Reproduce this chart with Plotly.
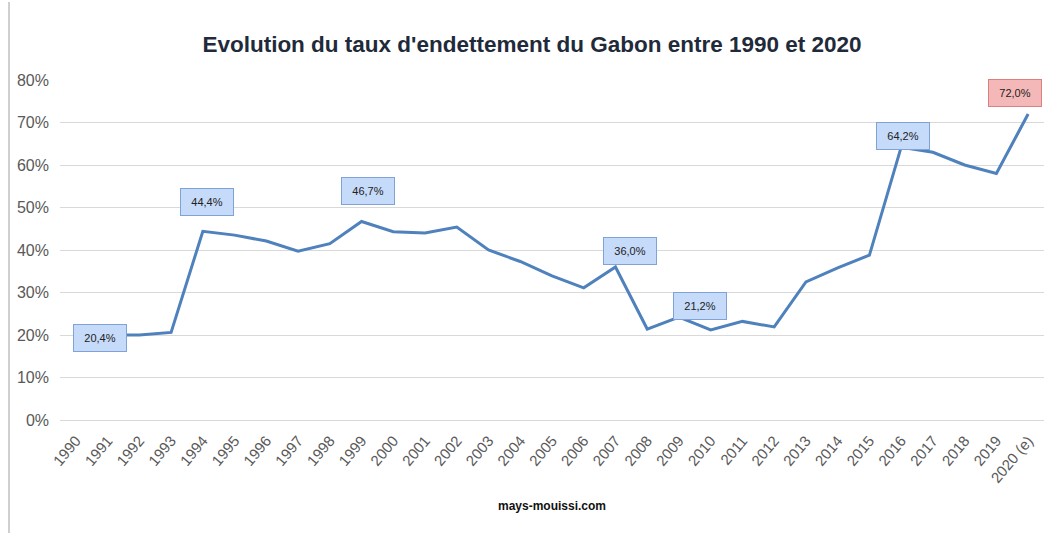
import plotly.graph_objects as go

years = [str(y) for y in range(1990, 2020)] + ["2020 (e)"]
debt = [20.4, 20.0, 20.0, 20.6, 44.4, 43.5, 42.1, 39.7, 41.5, 46.7,
        44.3, 44.0, 45.4, 40.0, 37.3, 33.9, 31.1, 36.0, 21.4, 24.2,
        21.2, 23.2, 21.9, 32.5, 35.8, 38.8, 64.2, 63.0, 60.0, 58.0, 72.0]

# labelled points: (index, xshift, yshift, estimated)
labelled = [(0, 24, -5, False), (4, 4, 29, False), (9, 6, 31, False),
            (17, 15, 16, False), (20, -11, 24, False), (26, 2, 11, False),
            (30, -13, 21, True)]

FONT = "Liberation Sans, Arial, sans-serif"

fig = go.Figure()
fig.add_trace(go.Scatter(
    x=years, y=debt, mode="lines",
    line=dict(color="#4f81bd", width=3),
    hoverinfo="x+y", showlegend=False,
))

annotations = []
for idx, xs, ys, est in labelled:
    annotations.append(dict(
        x=idx, y=debt[idx], xref="x", yref="y",
        text=f"{debt[idx]:.1f}%".replace(".", ","),
        showarrow=False, xshift=xs, yshift=ys,
        width=48, height=22, borderpad=2, borderwidth=1,
        bgcolor="#f5b8b8" if est else "#c6dafa",
        bordercolor="#d98080" if est else "#7fa3d6",
        font=dict(family=FONT, size=11, color="#222222"),
    ))

annotations.append(dict(
    text="mays-mouissi.com", xref="paper", yref="paper",
    x=(552 - 60) / 984, y=(420 - 515) / 340, showarrow=False,
    font=dict(family=FONT, size=12, color="#111111", weight="bold"),
))

fig.update_layout(
    width=1044, height=535,
    margin=dict(l=60, r=0, t=80, b=115),
    paper_bgcolor="white", plot_bgcolor="white",
    title=dict(
        text="<b>Evolution du taux d'endettement du Gabon entre 1990 et 2020</b>",
        x=532 / 1044, xanchor="center", y=1 - 44 / 535, yanchor="middle",
        font=dict(family=FONT, size=22.5, color="#1f2a3a"),
    ),
    xaxis=dict(
        type="category", range=[-0.5, 30.5], tickangle=-50,
        showgrid=False, showline=False, ticks="", ticklabelstandoff=8,
        tickfont=dict(family=FONT, size=15, color="#595959"),
    ),
    yaxis=dict(
        range=[0, 80], dtick=10, ticksuffix="%",
        showgrid=True, gridcolor="#d9d9d9", gridwidth=1,
        zeroline=True, zerolinecolor="#d9d9d9", zerolinewidth=1,
        showline=False, ticks="", ticklabelstandoff=10,
        tickfont=dict(family=FONT, size=16, color="#595959"),
    ),
    annotations=annotations,
    shapes=[dict(type="line", xref="paper", yref="paper",
                 x0=(9 - 60) / 984, x1=(9 - 60) / 984,
                 y0=(420 - 533) / 340, y1=(420 - 2) / 340,
                 line=dict(color="#bfbfbf", width=1.5))],
)

fig.write_html("out.html", config={"displayModeBar": False},
               post_script="document.body.style.margin='0';document.body.style.overflow='hidden';")
